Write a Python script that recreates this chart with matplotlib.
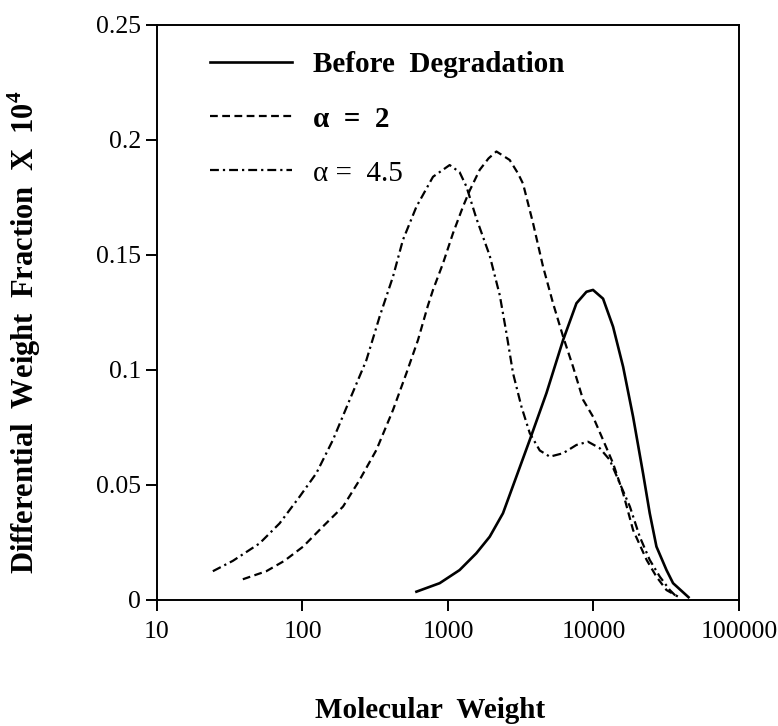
import numpy as np
import matplotlib
matplotlib.use("Agg")
import matplotlib.pyplot as plt

plt.rcParams["font.family"] = ["Liberation Serif", "DejaVu Serif"]
plt.rcParams["mathtext.fontset"] = "custom"
plt.rcParams["mathtext.rm"] = "Liberation Serif"
plt.rcParams["mathtext.bf"] = "Liberation Serif:bold"

# molecular weight / differential weight fraction (x 10^4)
mw_before = [607, 877, 1202, 1566, 1936, 2388, 2951, 3650, 4750, 6184, 7640, 8950,
             9930, 11640, 13640, 15990, 18720, 21930, 24370, 27100, 31770, 35250, 45000]
wf_before = [0.0036, 0.0073, 0.013, 0.0203, 0.0275, 0.0377, 0.0536, 0.0696, 0.0899,
             0.113, 0.129, 0.134, 0.1348, 0.131, 0.1188, 0.1014, 0.0797, 0.055, 0.0377,
             0.0232, 0.013, 0.0073, 0.0012]

mw_a2 = [38.9, 56.4, 75, 101, 138, 190, 247, 322, 419, 518, 622, 728, 789, 925, 1082,
         1268, 1410, 1652, 1900, 2153, 2656, 3027, 3280, 3845, 4500, 5275, 6184, 7240,
         8490, 9930, 11640, 13640, 15990, 18720, 23200, 27100, 31770, 38000]
wf_a2 = [0.009, 0.0125, 0.017, 0.0232, 0.0319, 0.0406, 0.0522, 0.0652, 0.0826, 0.0986,
         0.113, 0.128, 0.1348, 0.1464, 0.1594, 0.171, 0.178, 0.187, 0.192, 0.195, 0.1913,
         0.1855, 0.181, 0.1638, 0.145, 0.129, 0.1145, 0.1014, 0.087, 0.0797, 0.0696,
         0.0594, 0.0464, 0.0304, 0.0174, 0.0101, 0.0043, 0.0015]

mw_a45 = [24.2, 33.2, 50.7, 69.6, 95.5, 124.5, 162, 211, 275, 339, 419, 490, 607, 789,
          1027, 1202, 1340, 1566, 1936, 2270, 2523, 2800, 3200, 3650, 4275, 5010, 6184,
          7640, 9180, 11040, 12940, 15170, 17800, 20800, 24370, 28600, 33500, 37240]
wf_a45 = [0.0125, 0.017, 0.0246, 0.0333, 0.0449, 0.0551, 0.0696, 0.087, 0.1043, 0.1232,
          0.1406, 0.1565, 0.171, 0.184, 0.1891, 0.186, 0.1797, 0.166, 0.1497, 0.1325,
          0.116, 0.0986, 0.084, 0.0725, 0.065, 0.0623, 0.0638, 0.0674, 0.0688, 0.066,
          0.0609, 0.0507, 0.0406, 0.0275, 0.0174, 0.0101, 0.0043, 0.0014]

labels = ["Before  Degradation", "\u03b1  =  2", "\u03b1 =  4.5"]
yticks = [0, 0.05, 0.1, 0.15, 0.2, 0.25]
ytick_labels = ["0", "0.05", "0.1", "0.15", "0.2", "0.25"]
xticks = [10, 100, 1000, 10000, 100000]
xtick_labels = ["10", "100", "1000", "10000", "100000"]

fig = plt.figure(figsize=(7.78, 7.26), dpi=100)
ax = fig.add_axes([0.2018, 0.1736, 0.7480, 0.7920])

ax.plot(mw_before, wf_before, color="black", lw=1.9, label=labels[0])
ax.plot(mw_a2, wf_a2, color="black", lw=1.6, dashes=(3.5, 2.0), label=labels[1])
ax.plot(mw_a45, wf_a45, color="black", lw=1.6, dashes=(4.0, 1.8, 1.0, 1.8), label=labels[2])

ax.set_xscale("log")
ax.set_xlim(10, 100000)
ax.set_ylim(0, 0.25)
ax.set_xticks(xticks)
ax.set_xticklabels(xtick_labels)
ax.xaxis.set_minor_locator(matplotlib.ticker.NullLocator())
ax.set_yticks(yticks)
ax.set_yticklabels(ytick_labels)

for s in ax.spines.values():
    s.set_linewidth(1.4)
ax.tick_params(axis="both", direction="out", length=8, width=1.4, labelsize=18.5)
ax.tick_params(axis="x", pad=7)
ax.tick_params(top=False, right=False)

ax.set_xlabel("Molecular  Weight", fontsize=21, fontweight="bold", va="top")
ax.xaxis.set_label_coords(0.47, -0.168)
ax.set_ylabel(r"Differential  Weight  Fraction  X  10$^{\mathbf{4}}$",
              fontsize=22, fontweight="bold")
ax.yaxis.set_label_coords(-0.196, 0.465)

leg = ax.legend(loc="upper left", bbox_to_anchor=(0.091, 0.955), frameon=False,
                fontsize=21, handlelength=2.8, handletextpad=0.72,
                labelspacing=0.95, borderpad=0, borderaxespad=0)
for i, t in enumerate(leg.get_texts()):
    t.set_fontweight("bold" if i < 2 else "normal")

fig.savefig("out.png", dpi=100)
